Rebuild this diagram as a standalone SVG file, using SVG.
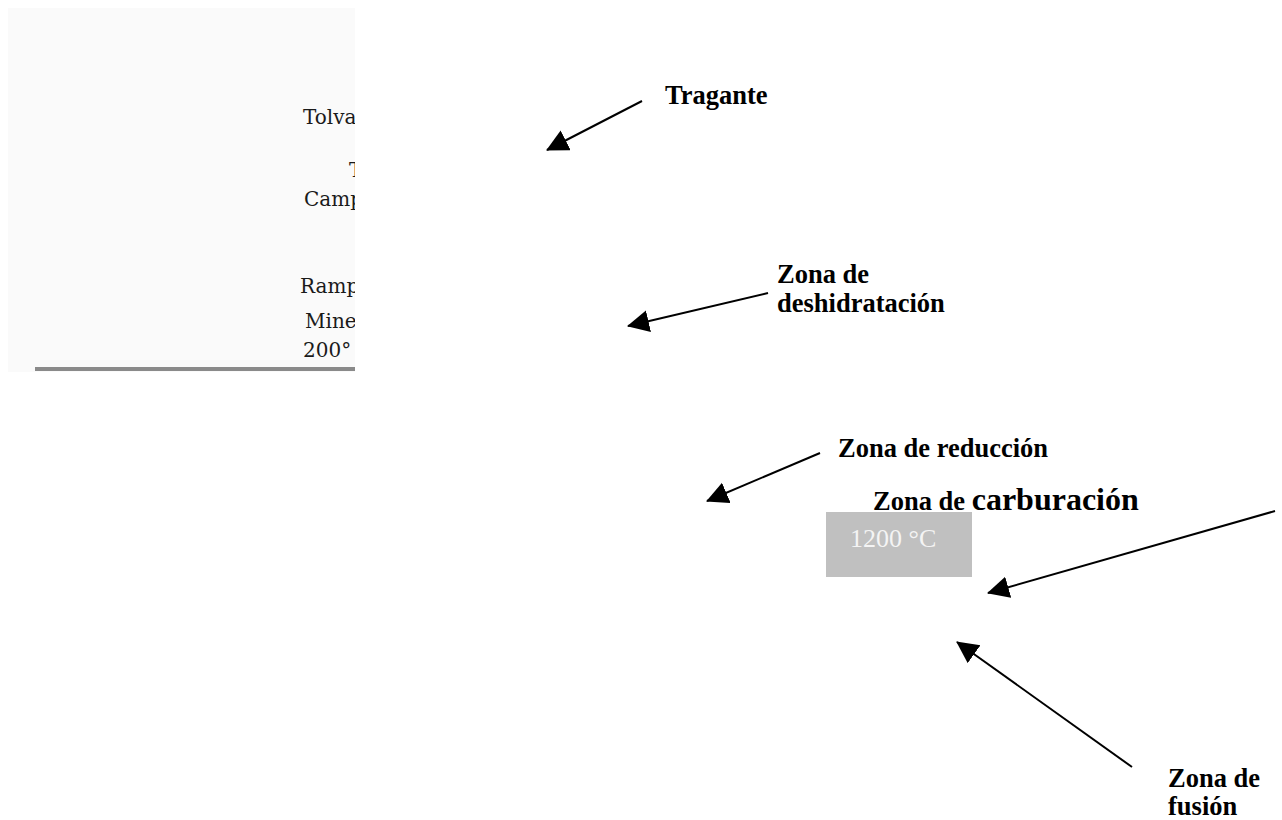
<svg xmlns="http://www.w3.org/2000/svg" width="1282" height="820" viewBox="0 0 1282 820">
<style>
.lbl{font-family:"Liberation Serif","Times New Roman",serif;font-weight:bold;font-size:26.5px;fill:#000}
.big{font-size:32px}
.px{font-family:"DejaVu Serif",serif;font-size:20px;fill:#1a1a1a}
.conn{stroke:#000;stroke-width:2;fill:none;marker-end:url(#ah)}
</style>
<defs>
<marker id="ah" markerUnits="userSpaceOnUse" markerWidth="24" markerHeight="24" refX="21" refY="11" orient="auto">
<path d="M0,0 L22,11 L0,22 Z" fill="#000"/>
</marker>
<clipPath id="imgclip"><rect x="8" y="8" width="347" height="364"/></clipPath>
</defs>
<rect x="0" y="0" width="1282" height="820" fill="#fff"/>
<g id="photo" clip-path="url(#imgclip)">
<rect x="8" y="8" width="347" height="364" fill="#fafafa"/>
<rect x="35" y="367" width="320" height="4" fill="#8a8a8a"/>
<text class="px" x="303" y="124">Tolva</text>
<text class="px" x="349" y="177">T</text>
<text class="px" x="304" y="206">Camp</text>
<text class="px" x="300" y="293">Ramp</text>
<text class="px" x="305" y="328">Mine</text>
<text class="px" x="303" y="357">200°</text>
</g>
<g id="connectors">
<line class="conn" x1="642" y1="101" x2="547" y2="150"/>
<line class="conn" x1="768" y1="293" x2="628" y2="326"/>
<line class="conn" x1="820" y1="453" x2="707" y2="501"/>
<line class="conn" x1="1275" y1="511" x2="988" y2="593"/>
<line class="conn" x1="1132" y1="767" x2="957" y2="642"/>
</g>
<g id="tragante"><text class="lbl" x="665" y="104">Tragante</text></g>
<g id="deshidratacion">
<text class="lbl" x="777" y="283">Zona de</text>
<text class="lbl" x="777" y="312">deshidratación</text>
</g>
<g id="reduccion"><text class="lbl" x="838" y="457">Zona de reducción</text></g>
<g id="temp">
<rect x="826" y="512" width="146" height="65" fill="#c0c0c0"/>
<text x="850" y="547" font-family="Liberation Serif, Times New Roman, serif" font-size="26" fill="#f4f4f4">1200 °C</text>
</g>
<g id="carburacion"><text class="lbl" x="873" y="510">Zona de <tspan class="big">carburación</tspan></text></g>
<g id="fusion">
<text class="lbl" x="1168" y="787">Zona de</text>
<text class="lbl" x="1168" y="815">fusión</text>
</g>
</svg>
